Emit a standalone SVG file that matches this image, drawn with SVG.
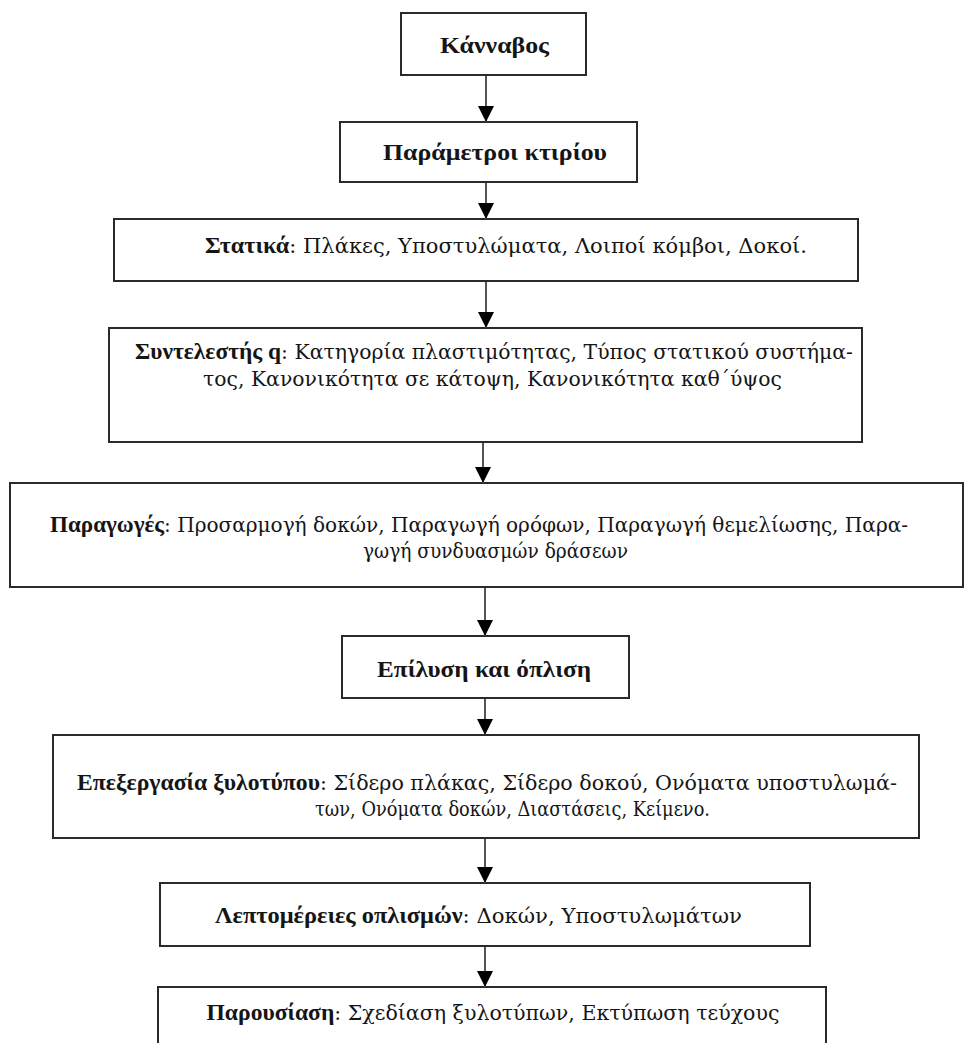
<svg xmlns="http://www.w3.org/2000/svg" width="971" height="1043" viewBox="0 0 971 1043">
<defs>
<marker id="ah" markerWidth="16" markerHeight="16" refX="16" refY="8" orient="auto" markerUnits="userSpaceOnUse">
<path d="M0,0 L16,8 L0,16 Z" fill="#000"/>
</marker>
<style>
.box{fill:#fff;stroke:#2a2a2a;stroke-width:2}
.t{font-family:"DejaVu Serif","Liberation Serif",serif;font-size:20px;fill:#151515;text-anchor:middle}
.b{font-family:"Liberation Serif","DejaVu Serif",serif;font-size:23px;font-weight:bold}
.c{stroke:#555;stroke-width:2;fill:none}
</style>
</defs>
<rect width="971" height="1043" fill="#fff"/>
<g id="n1">
<rect class="box" x="401" y="13" width="185" height="62"/>
<text class="t b" x="494.5" y="53" textLength="109" lengthAdjust="spacingAndGlyphs">Κάνναβος</text>
</g>
<g id="n2">
<rect class="box" x="340" y="122" width="297" height="60"/>
<text class="t b" x="495" y="160" textLength="224" lengthAdjust="spacingAndGlyphs">Παράμετροι κτιρίου</text>
</g>
<g id="n3">
<rect class="box" x="114" y="219" width="744" height="62"/>
<text class="t" x="506" y="253" textLength="602" lengthAdjust="spacingAndGlyphs"><tspan class="b">Στατικά</tspan>: Πλάκες, Υποστυλώματα, Λοιποί κόμβοι, Δοκοί.</text>
</g>
<g id="n4">
<rect class="box" x="109" y="328" width="753" height="114"/>
<text class="t" x="494" y="359" textLength="718" lengthAdjust="spacingAndGlyphs"><tspan class="b">Συντελεστής q</tspan>: Κατηγορία πλαστιμότητας, Τύπος στατικού συστήμα-</text>
<text class="t" x="492.5" y="386" textLength="579" lengthAdjust="spacingAndGlyphs">τος, Κανονικότητα σε κάτοψη, Κανονικότητα καθ΄ύψος</text>
</g>
<g id="n5">
<rect class="box" x="10" y="483" width="953" height="104"/>
<text class="t" x="479" y="532" textLength="858" lengthAdjust="spacingAndGlyphs"><tspan class="b">Παραγωγές</tspan>: Προσαρμογή δοκών, Παραγωγή ορόφων, Παραγωγή θεμελίωσης, Παρα-</text>
<text class="t" x="495.5" y="558" textLength="265" lengthAdjust="spacingAndGlyphs">γωγή συνδυασμών δράσεων</text>
</g>
<g id="n6">
<rect class="box" x="342" y="636" width="287" height="62"/>
<text class="t b" x="484" y="677" textLength="214" lengthAdjust="spacingAndGlyphs">Επίλυση και όπλιση</text>
</g>
<g id="n7">
<rect class="box" x="53" y="735" width="866" height="103"/>
<text class="t" x="487" y="790" textLength="820" lengthAdjust="spacingAndGlyphs"><tspan class="b">Επεξεργασία ξυλοτύπου</tspan>: Σίδερο πλάκας, Σίδερο δοκού, Ονόματα υποστυλωμά-</text>
<text class="t" x="512.5" y="816" textLength="395" lengthAdjust="spacingAndGlyphs">των, Ονόματα δοκών, Διαστάσεις, Κείμενο.</text>
</g>
<g id="n8">
<rect class="box" x="160" y="883" width="650" height="63"/>
<text class="t" x="478.5" y="923" textLength="527" lengthAdjust="spacingAndGlyphs"><tspan class="b">Λεπτομέρειες οπλισμών</tspan>: Δοκών, Υποστυλωμάτων</text>
</g>
<g id="n9">
<rect class="box" x="158" y="987" width="668" height="70"/>
<text class="t" x="493" y="1020" textLength="573" lengthAdjust="spacingAndGlyphs"><tspan class="b">Παρουσίαση</tspan>: Σχεδίαση ξυλοτύπων, Εκτύπωση τεύχους</text>
</g>
<g id="connectors">
<path class="c" d="M486,76 V122" marker-end="url(#ah)"/>
<path class="c" d="M486,183 V219" marker-end="url(#ah)"/>
<path class="c" d="M486,282 V328" marker-end="url(#ah)"/>
<path class="c" d="M483,443 V483" marker-end="url(#ah)"/>
<path class="c" d="M485,588 V636" marker-end="url(#ah)"/>
<path class="c" d="M485,699 V735" marker-end="url(#ah)"/>
<path class="c" d="M485,839 V883" marker-end="url(#ah)"/>
<path class="c" d="M485,947 V987" marker-end="url(#ah)"/>
</g>
</svg>
